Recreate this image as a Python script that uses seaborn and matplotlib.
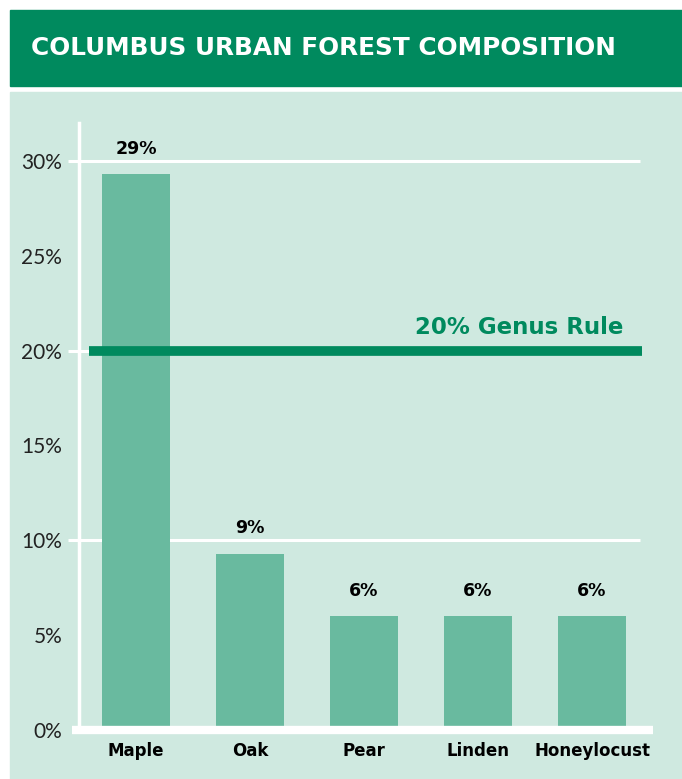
import matplotlib
matplotlib.use("Agg")
import matplotlib.pyplot as plt
import matplotlib.patches as mpatches
import matplotlib.transforms as mtransforms
import seaborn as sns
import pandas as pd

# ---- data ----
genera = ["Maple", "Oak", "Pear", "Linden", "Honeylocust"]
shares = [29.3, 9.3, 6.0, 6.0, 6.0]
share_labels = ["29%", "9%", "6%", "6%", "6%"]
ytick_values = [0, 5, 10, 15, 20, 25, 30]
ytick_labels = ["0%", "5%", "10%", "15%", "20%", "25%", "30%"]
grid_values = [10, 20, 30]
rule_value = 20
rule_label = "20% Genus Rule"
title = "COLUMBUS URBAN FOREST COMPOSITION"

DARK = "#008A5E"
PANEL = "#CFE9E0"
BAR = "#69BA9F"

sns.set_theme(style="white")
plt.rcParams["font.family"] = ["Lato", "DejaVu Sans"]

W, H = 682, 779
fig = plt.figure(figsize=(W / 100, H / 100), dpi=100, facecolor="white")

# banner and panel
fig.patches.append(mpatches.Rectangle((10 / W, 1 - 86 / H), 1, 76 / H,
                                      transform=fig.transFigure, color=DARK, zorder=-5))
fig.patches.append(mpatches.Rectangle((10 / W, 0), 1, 1 - 92 / H,
                                      transform=fig.transFigure, color=PANEL, zorder=-5))
fig.text(31 / W, 1 - 48 / H, title, color="white", fontsize=17.8, fontweight="bold",
         family=["DejaVu Sans"], ha="left", va="center")

# axes: x from 79 to 649 px, y from 730 (0) to 123 px (top)
ax = fig.add_axes([79 / W, (H - 730) / H, (649 - 79) / W, (730 - 123) / H])
ax.set_facecolor("none")

df = pd.DataFrame({"genus": genera, "share": shares})
sns.barplot(data=df, x="genus", y="share", color=BAR, saturation=1, width=0.6,
            ax=ax, zorder=3)
ax.set_xlim(-0.5, 4.5)
ax.set_ylim(0, 32)

for p in ax.patches:
    p.set_edgecolor("none")
ax.bar_label(ax.containers[0], labels=share_labels, padding=12, fontsize=12.5,
             fontweight="bold", color="black", family=["DejaVu Sans"])

# gridlines with small outward tick
trans = mtransforms.blended_transform_factory(ax.transAxes, ax.transData)
for g in grid_values:
    ax.plot([-0.019, 0.985], [g, g], transform=trans, color="white", lw=2.2,
            clip_on=False, zorder=1, solid_capstyle="butt")

# bottom baseline
ax.plot([-0.012, 1.007], [0, 0], transform=trans, color="white", lw=6,
        clip_on=False, zorder=4, solid_capstyle="butt")

# 20% rule
ax.plot([0.018, 0.988], [rule_value, rule_value], transform=trans, color=DARK, lw=7,
        clip_on=False, zorder=5, solid_capstyle="butt")
ax.text(0.955, rule_value + 1.2, rule_label, transform=trans, color=DARK, fontsize=16.5,
        fontweight="bold", family=["DejaVu Sans"], ha="right", va="center")

for s in ["top", "right", "bottom"]:
    ax.spines[s].set_visible(False)
ax.spines["left"].set_color("white")
ax.spines["left"].set_linewidth(2.5)
ax.spines["left"].set_zorder(2)

ax.set_yticks(ytick_values)
ax.set_yticklabels(ytick_labels, fontsize=15, color="#222222")
ax.tick_params(axis="y", length=0, pad=12)
ax.tick_params(axis="x", length=0, pad=9)
for lbl in ax.get_xticklabels():
    lbl.set_fontweight("bold")
    lbl.set_fontsize(12)
    lbl.set_family(["DejaVu Sans"])
    lbl.set_color("black")
ax.set_xlabel("")
ax.set_ylabel("")

fig.savefig("out.png", dpi=100, facecolor="white")
